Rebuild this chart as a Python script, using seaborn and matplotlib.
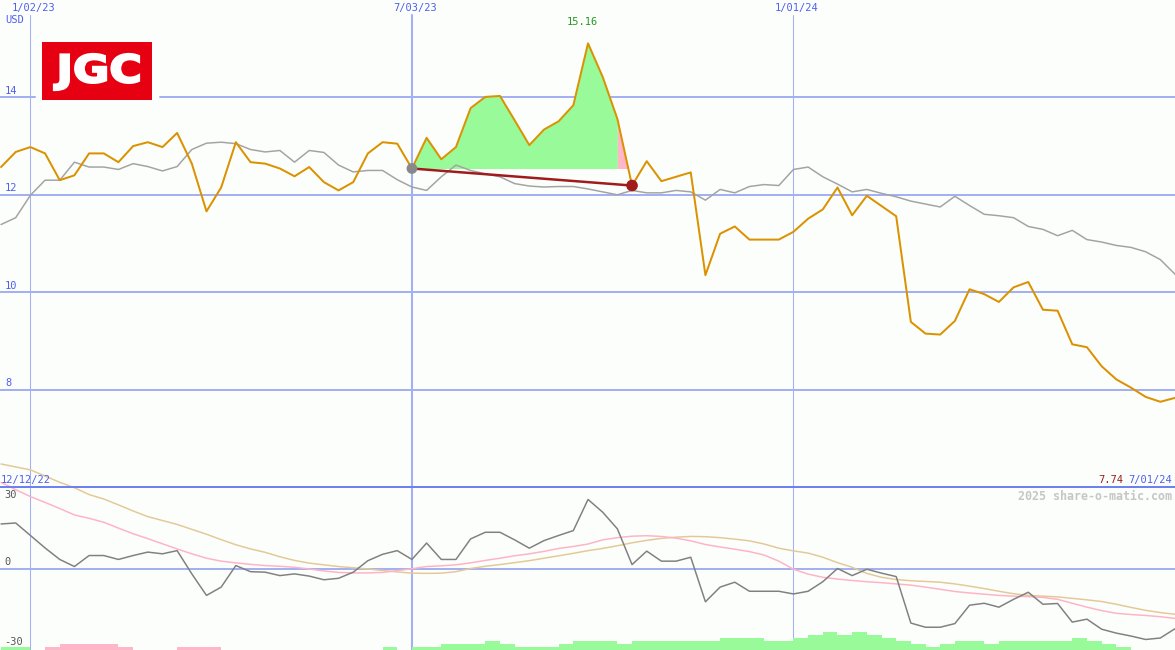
import numpy as np
import pandas as pd
import matplotlib
matplotlib.use("Agg")
import matplotlib.pyplot as plt
import matplotlib.dates as mdates
from matplotlib.textpath import TextPath
from matplotlib.patches import PathPatch
from matplotlib.font_manager import FontProperties
from matplotlib.transforms import Affine2D
import seaborn as sns

# weekly data, 12/19/22 .. 7/01/24
start_date = "2022-12-19"

price = [12.57, 12.88, 12.98, 12.85, 12.30, 12.40, 12.85, 12.85, 12.67, 13.00,
         13.08, 12.98, 13.27, 12.64, 11.66, 12.15, 13.08, 12.67, 12.64, 12.54,
         12.38, 12.57, 12.26, 12.09, 12.26, 12.85, 13.08, 13.05, 12.54, 13.17,
         12.73, 12.98, 13.78, 14.01, 14.03, 13.53, 13.02, 13.34, 13.51, 13.84,
         15.11, 14.42, 13.56, 12.19, 12.69, 12.28, 12.37, 12.46, 10.35, 11.20,
         11.35, 11.08, 11.08, 11.08, 11.24, 11.51, 11.70, 12.15, 11.58, 11.98,
         11.77, 11.56, 9.39, 9.15, 9.13, 9.41, 10.06, 9.96, 9.80, 10.10,
         10.21, 9.64, 9.62, 8.93, 8.87, 8.48, 8.21, 8.04, 7.85, 7.75, 7.83]

relative = [11.39, 11.53, 11.99, 12.30, 12.30, 12.67, 12.57, 12.57, 12.52, 12.64,
            12.58, 12.49, 12.58, 12.93, 13.06, 13.08, 13.05, 12.93, 12.88, 12.91,
            12.67, 12.91, 12.87, 12.61, 12.47, 12.50, 12.50, 12.31, 12.16, 12.09,
            12.37, 12.61, 12.50, 12.43, 12.37, 12.23, 12.18, 12.16, 12.17, 12.17,
            12.12, 12.06, 12.00, 12.09, 12.04, 12.04, 12.09, 12.06, 11.89, 12.11,
            12.04, 12.17, 12.21, 12.19, 12.52, 12.57, 12.37, 12.22, 12.06, 12.11,
            12.03, 11.96, 11.87, 11.81, 11.75, 11.97, 11.78, 11.60, 11.57, 11.53,
            11.35, 11.29, 11.16, 11.27, 11.08, 11.03, 10.96, 10.92, 10.83, 10.67, 10.37]

momentum = [18.2, 18.6, 13.5, 8.4, 3.7, 0.8, 5.3, 5.3, 3.7, 5.3,
            6.7, 6.0, 7.3, -2.2, -11.0, -7.6, 1.2, -1.3, -1.5, -2.9,
            -2.2, -3.1, -4.6, -4.0, -1.5, 3.2, 5.8, 7.3, 3.7, 10.4,
            3.7, 3.7, 12.1, 14.8, 14.8, 11.7, 8.3, 11.4, 13.5, 15.5,
            28.2, 23.0, 16.2, 1.6, 7.1, 3.0, 3.0, 4.6, -13.6, -7.6,
            -5.6, -9.3, -9.3, -9.3, -10.4, -9.3, -5.4, 0.0, -2.9, -0.3,
            -1.9, -3.3, -22.3, -24.0, -24.0, -22.5, -15.0, -14.2, -15.8, -12.6,
            -9.7, -14.6, -14.3, -21.9, -20.7, -24.8, -26.4, -27.6, -29.0, -28.4, -24.6]

avg_fast = [35.2, 32.2, 29.4, 27.0, 24.5, 21.9, 20.5, 18.9, 16.5, 14.2,
            12.2, 10.1, 8.0, 6.0, 4.2, 3.0, 2.3, 1.7, 1.2, 0.9,
            0.5, -0.2, -1.0, -1.6, -1.8, -1.8, -1.6, -0.9, -0.1, 0.8,
            1.1, 1.5, 2.3, 3.3, 4.2, 5.2, 6.0, 7.0, 8.2, 9.0,
            10.0, 11.7, 12.6, 13.2, 13.4, 13.1, 12.4, 11.3, 9.8, 8.8,
            7.9, 6.9, 5.5, 3.0, -0.3, -2.3, -3.6, -4.3, -4.9, -5.4,
            -5.8, -6.3, -6.8, -7.6, -8.5, -9.4, -10.0, -10.5, -11.0, -11.3,
            -11.5, -11.8, -12.6, -14.2, -15.8, -17.2, -18.3, -18.8, -19.2, -19.7, -20.4]

avg_slow = [42.7, 41.5, 40.3, 37.8, 35.2, 33.0, 30.2, 28.4, 26.0, 23.5,
            21.2, 19.6, 18.0, 16.0, 14.0, 11.8, 9.7, 8.0, 6.6, 4.8,
            3.3, 2.2, 1.5, 0.8, 0.3, -0.2, -0.8, -1.4, -1.9, -2.0,
            -1.9, -1.3, 0.0, 0.9, 1.6, 2.4, 3.2, 4.2, 5.2, 6.2,
            7.3, 8.2, 9.3, 10.5, 11.5, 12.3, 12.8, 13.1, 13.0, 12.6,
            12.0, 11.3, 10.0, 8.3, 7.2, 6.3, 4.6, 2.4, 0.5, -2.0,
            -3.6, -4.5, -5.0, -5.3, -5.6, -6.3, -7.2, -8.2, -9.3, -10.3,
            -11.0, -11.3, -11.6, -12.2, -12.8, -13.5, -14.6, -15.9, -17.1, -18.0, -18.7]

trend_bars = [1, 1, 0, -1, -2, -2, -2, -2, -1, 0,
              0, 0, -1, -1, -1, 0, 0, 0, 0, 0,
              0, 0, 0, 0, 0, 0, 1, 0, 1, 1,
              2, 2, 2, 3, 2, 1, 1, 1, 2, 3,
              3, 3, 2, 3, 3, 3, 3, 3, 3, 4,
              4, 4, 3, 3, 4, 5, 6, 5, 6, 5,
              4, 3, 2, 1, 2, 3, 3, 2, 3, 3,
              3, 3, 3, 4, 3, 2, 1, 0, 0, 0, 0]

grid_dates = ["2023-01-02", "2023-07-03", "2024-01-01"]
grid_labels = ["1/02/23", "7/03/23", "1/01/24"]
price_ticks = [14, 12, 10, 8]
osc_ticks = [30, 0, -30]

range_start = "2023-07-03"
range_end = "2023-10-16"
peak_label = "15.16"
first_label = "12/12/22"
last_label = "7/01/24"
last_price_label = "7.74"
currency = "USD"
logo_text = "JGC"
credit = "2025 share-o-matic.com"

# style
W, H = 1175, 650
TOP_H = 487
BG = "#fcfefc"
GRID = "#a3b1f2"
SEP = "#6f80ef"
TXT = "#4f5fee"
ORANGE = "#db9200"
GRAY = "#a3a3a3"
DGRAY = "#808080"
PINK = "#ffb3c6"
TAN = "#e3c997"
GAIN = "#98fa98"
LOSS = "#ffb6c8"
DRED = "#a01c1c"
RED = "#e60012"
grid_widths = [0.75, 1.5, 0.75]
px = 0.72  # one pixel in points

sns.set_style("white")
plt.rcParams["font.family"] = ["DejaVu Sans Mono"]
plt.rcParams["font.size"] = 7.5

dates = pd.date_range(start_date, periods=len(price), freq="7D")
df = pd.DataFrame({"date": dates, "price": price, "relative": relative,
                   "momentum": momentum, "avg_fast": avg_fast,
                   "avg_slow": avg_slow, "bars": trend_bars})

fig = plt.figure(figsize=(W / 100, H / 100), dpi=100, facecolor=BG)
ax = fig.add_axes([0, (H - TOP_H) / H, 1, TOP_H / H])
axb = fig.add_axes([0, 0, 1, (H - TOP_H) / H])

origin = pd.Timestamp(grid_dates[0])
x0 = mdates.date2num(origin - pd.Timedelta(days=14.5))
x1 = mdates.date2num(origin + pd.Timedelta(days=546))
for a in (ax, axb):
    a.set_facecolor("none")
    a.set_axis_off()
    a.set_xlim(x0, x1)
ax.set_ylim(6, 16)
axb.set_ylim(-33.3, 33.3)

# ---- top panel grid
for d, lw in zip(grid_dates, grid_widths):
    ax.axvline(pd.Timestamp(d), ymax=1 - 15 / TOP_H, color=GRID, lw=lw, zorder=1)
    axb.axvline(pd.Timestamp(d), color=GRID, lw=lw, zorder=1)
for v in price_ticks:
    if v == 14:
        ax.axhline(v, xmax=35 / W, color=GRID, lw=2 * px, zorder=1)
        ax.axhline(v, xmin=160 / W, color=GRID, lw=2 * px, zorder=1)
    else:
        ax.axhline(v, color=GRID, lw=2 * px, zorder=1)
    ax.annotate(str(v), xy=(0, v), xycoords=("axes fraction", "data"),
                xytext=(5, 1.5), textcoords="offset pixels", va="bottom",
                ha="left", color=TXT)
for d, lab in zip(grid_dates, grid_labels):
    ax.annotate(lab, xy=(mdates.date2num(pd.Timestamp(d)), 1 - 8 / TOP_H),
                xycoords=("data", "axes fraction"), xytext=(3, 0),
                textcoords="offset pixels", ha="center", va="center", color=TXT)
fig.text(5 / W, 1 - 20 / H, currency, ha="left", va="center", color=TXT)

# ---- holding range fill
rng = df[(df.date >= range_start) & (df.date <= range_end)]
base = rng.price.iloc[0]
gain = rng.iloc[:-1]
ax.fill_between(gain.date.to_numpy(), gain.price, base, where=gain.price >= base,
                interpolate=True, color=GAIN, lw=0, zorder=2)
tail = rng.iloc[-2:]
ax.fill_between(tail.date.to_numpy(), tail.price, base, where=tail.price >= base,
                interpolate=True, color=LOSS, lw=0, zorder=2)

sns.lineplot(data=df, x="date", y="relative", ax=ax, color=GRAY, lw=1.5 * px, zorder=3)
sns.lineplot(data=df, x="date", y="price", ax=ax, color=ORANGE, lw=2 * px, zorder=4)

ends = pd.DataFrame({"date": [rng.date.iloc[0], rng.date.iloc[-1]],
                     "price": [base, rng.price.iloc[-1]]})
sns.lineplot(data=ends, x="date", y="price", ax=ax, color=DRED, lw=2.5 * px, zorder=5)
sns.scatterplot(data=ends.iloc[:1], x="date", y="price", ax=ax, color="#888888",
                s=60, edgecolor="none", zorder=6)
sns.scatterplot(data=ends.iloc[1:], x="date", y="price", ax=ax, color=DRED,
                s=70, edgecolor="none", zorder=6)
peak = rng.loc[rng.price.idxmax()]
ax.annotate(peak_label, xy=(mdates.date2num(peak.date), 1 - 22 / TOP_H),
            xycoords=("data", "axes fraction"), xytext=(-6, 0),
            textcoords="offset pixels", ha="center", va="center", color="#229922")
ax.set_xlabel("")
ax.set_ylabel("")

# logo: red box with condensed heavy lettering
lax = fig.add_axes([42 / W, 1 - 100 / H, 110 / W, 58 / H])
lax.set_facecolor(RED)
lax.set_xticks([])
lax.set_yticks([])
for s in lax.spines.values():
    s.set_visible(False)
lax.set_xlim(0, 110)
lax.set_ylim(0, 58)
tp = TextPath((0, 0), logo_text, size=40,
              prop=FontProperties(family="DejaVu Sans", weight="bold"))
bb = tp.get_extents()
fit = (Affine2D().translate(-bb.x0, -bb.y0)
       .scale(85 / bb.width, 36 / bb.height).translate(12, 10))
lax.add_patch(PathPatch(fit.transform_path(tp), facecolor="white",
                        edgecolor="white", lw=1.6, joinstyle="miter"))

# ---- bottom panel
axb.axhline(0, color=GRID, lw=2 * px, zorder=1)
axb.axhline(33.3, color=SEP, lw=2 * px, zorder=7, clip_on=False)
bar_unit = 3 * 66.6 / (H - TOP_H)
bar_colors = [GAIN if b > 0 else LOSS for b in df.bars]
axb.bar(df.date, df.bars.abs() * bar_unit, bottom=-33.3, width=7, align="edge",
        color=bar_colors, lw=0, zorder=2)
sns.lineplot(data=df, x="date", y="avg_slow", ax=axb, color=TAN, lw=1.5 * px, zorder=3)
sns.lineplot(data=df, x="date", y="avg_fast", ax=axb, color=PINK, lw=1.5 * px, zorder=3)
for ln in axb.lines[-2:]:
    ln.set_clip_on(False)
sns.lineplot(data=df, x="date", y="momentum", ax=axb, color=DGRAY, lw=1.5 * px, zorder=4)
axb.set_xlabel("")
axb.set_ylabel("")

for v in osc_ticks:
    va = "bottom" if v == 0 else "center"
    off = 1.5 if v == 0 else 0
    axb.annotate(str(v), xy=(0, v), xycoords=("axes fraction", "data"),
                 xytext=(4, off), textcoords="offset pixels", va=va, ha="left",
                 color="#555555")

fig.text(1 / W, 1 - 480 / H, first_label, ha="left", va="center", color=TXT)
fig.text(1172 / W, 1 - 480 / H, last_label, ha="right", va="center", color=TXT)
fig.text(1123 / W, 1 - 480 / H, last_price_label, ha="right", va="center", color=DRED)
fig.text(1172 / W, 1 - 496 / H, credit, ha="right", va="center", color="#c6c6c6",
         fontsize=8.4, fontweight="bold")

fig.savefig("out.png", dpi=100, facecolor=BG)
